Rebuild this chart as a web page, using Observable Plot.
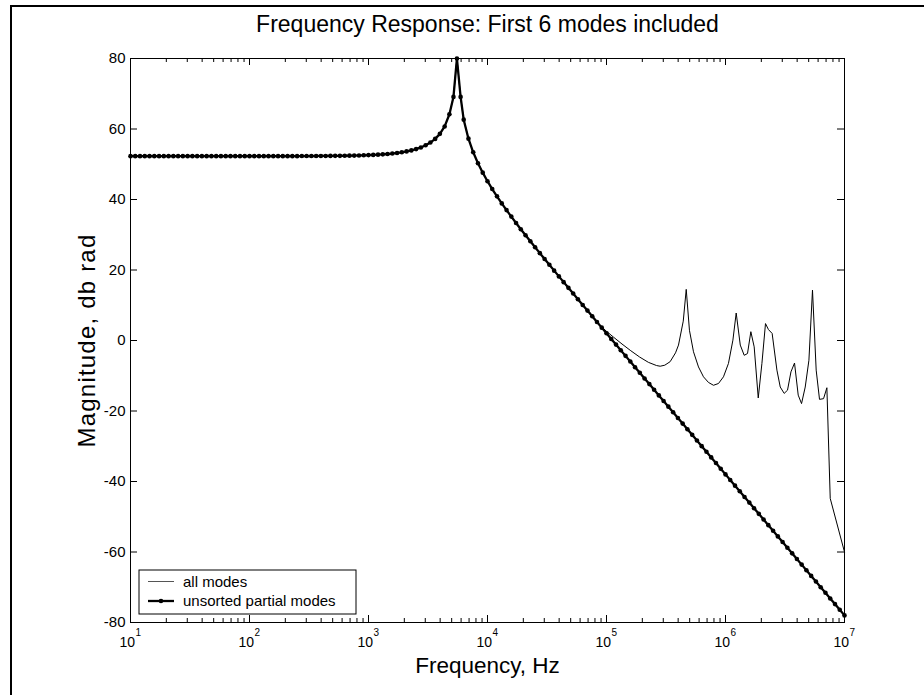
<!DOCTYPE html>
<html><head><meta charset="utf-8">
<script src="https://cdn.jsdelivr.net/npm/d3@7"></script>
<script src="https://cdn.jsdelivr.net/npm/@observablehq/plot@0.6"></script>
<style>
html,body{margin:0;padding:0;background:#fff;}
#wrap{position:relative;width:924px;height:695px;overflow:hidden;background:#fff;}
#chart{position:absolute;left:0;top:0;}
#outer{position:absolute;left:10px;top:5px;width:960px;height:740px;border-left:2px solid #000;border-top:2px solid #000;pointer-events:none;}
</style></head><body>
<div id="wrap"><div id="chart"></div><div id="outer"></div></div>
<script>
// ---- data ----
const titleText = "Frequency Response: First 6 modes included";
const xLabelText = "Frequency, Hz";
const yLabelText = "Magnitude, db rad";
const seriesNames = ["all modes", "unsorted partial modes"];

const xMajorTicks = [10, 100, 1000, 10000, 100000, 1000000, 10000000];
const xTickExponents = ["1", "2", "3", "4", "5", "6", "7"];
const xMinorMultipliers = [2, 3, 4, 5, 6, 7, 8, 9];
const yTicks = [-80, -60, -40, -20, 0, 20, 40, 60, 80];
const yTickLabels = ["-80", "-60", "-40", "-20", "0", "20", "40", "60", "80"];

// unsorted partial modes (thick line with markers)
const partialFreq = [
10, 10.96, 12.02, 13.18, 14.45, 15.85, 17.38, 19.05, 20.89, 22.91, 25.12, 27.54, 30.2, 33.11, 36.31, 39.81, 43.65, 47.86, 52.48, 57.54, 63.1, 69.18, 75.86, 83.18, 91.2,
100, 109.6, 120.2, 131.8, 144.5, 158.5, 173.8, 190.5, 208.9, 229.1, 251.2, 275.4, 302, 331.1, 363.1, 398.1, 436.5, 478.6, 524.8, 575.4, 631, 691.8, 758.6, 831.8, 912,
1000, 1096, 1202, 1318, 1445, 1585, 1738, 1905, 2089, 2291, 2512, 2754, 3020, 3311, 3631, 3981, 4365, 4786, 5176, 5534, 5943, 6310, 6918, 7586, 8318, 9120,
10000, 10960, 12020, 13180, 14450, 15850, 17380, 19050, 20890, 22910, 25120, 27540, 30200, 33110, 36310, 39810, 43650, 47860, 52480, 57540, 63100, 69180, 75860, 83180, 91200,
100000, 109600, 120200, 131800, 144500, 158500, 173800, 190500, 208900, 229100, 251200, 275400, 302000, 331100, 363100, 398100, 436500, 478600, 524800, 575400, 631000, 691800, 758600, 831800, 912000,
1000000, 1096000, 1202000, 1318000, 1445000, 1585000, 1738000, 1905000, 2089000, 2291000, 2512000, 2754000, 3020000, 3311000, 3631000, 3981000, 4365000, 4786000, 5248000, 5754000, 6310000, 6918000, 7586000, 8318000, 9120000, 10000000
];
const partialDb = [
52.3, 52.3, 52.3, 52.3, 52.3, 52.3, 52.3, 52.3, 52.3, 52.3, 52.3, 52.3, 52.3, 52.3, 52.3, 52.3, 52.3, 52.3, 52.3, 52.3, 52.3, 52.3, 52.3, 52.3, 52.3,
52.3, 52.3, 52.3, 52.3, 52.3, 52.3, 52.3, 52.3, 52.3, 52.3, 52.3, 52.32, 52.33, 52.33, 52.34, 52.35, 52.35, 52.37, 52.38, 52.39, 52.41, 52.44, 52.46, 52.5, 52.54,
52.59, 52.65, 52.72, 52.81, 52.91, 53.04, 53.2, 53.4, 53.64, 53.93, 54.3, 54.77, 55.37, 56.15, 57.19, 58.62, 60.73, 64.19, 69.1, 80.0, 69.1, 62.65, 57.26, 53.4, 50.3, 47.61,
45.19, 42.97, 40.89, 38.9, 37.0, 35.15, 33.35, 31.58, 29.85, 28.14, 26.45, 24.78, 23.12, 21.47, 19.82, 18.19, 16.56, 14.94, 13.32, 11.7, 10.09, 8.48, 6.87, 5.26, 3.65,
2.05, 0.44, -1.16, -2.76, -4.36, -5.97, -7.57, -9.17, -10.77, -12.37, -13.97, -15.57, -17.17, -18.77, -20.37, -21.97, -23.57, -25.17, -26.77, -28.37, -29.97, -31.57, -33.17, -34.77, -36.37,
-37.98, -39.58, -41.18, -42.78, -44.38, -45.98, -47.58, -49.18, -50.78, -52.38, -53.98, -55.58, -57.18, -58.78, -60.38, -61.98, -63.58, -65.18, -66.78, -68.38, -69.98, -71.58, -73.18, -74.78, -76.38, -77.98
];

// all modes: identical to the partial curve below ~8e4 Hz, then these points
const allModesHighFreq = [
83180, 91200, 100000, 115000, 135000, 160000, 190000, 225000, 263000, 282500, 309000, 342800, 380200, 402700, 441600, 467700, 497700, 538300, 592900, 653100,
719400, 792500, 873000, 961600, 1059000, 1154000, 1230000, 1331000, 1436000, 1531000, 1633000, 1742000, 1884000, 2023000, 2168000, 2296000, 2466000, 2704000,
2884000, 3112000, 3319000, 3548000, 3802000, 4083000, 4355000, 4677000, 5023000, 5383000, 5781000, 6166000, 6668000, 7112000, 7586000, 10000000
];
const allModesHighDb = [
5.3, 3.8, 2.6, 0.9, -1.0, -2.9, -4.7, -6.2, -7.1, -7.3, -7.0, -6.0, -3.5, -1.3, 5.5, 14.5, 2.9, -3.2, -7.5, -10.3,
-11.9, -12.7, -12.2, -10.3, -6.5, 0.1, 7.8, -1.3, -4.2, -3.7, 2.5, -1.8, -16.3, -6.5, 4.8, 3.1, 2.0, -8.4,
-13.2, -15.0, -14.1, -8.9, -6.4, -15.5, -17.9, -13.2, -5.6, 14.3, -8.4, -16.7, -16.5, -13.4, -44.8, -60.0
];

// ---- build ----
const W = 924, H = 695, mL = 130, mR = 80, mT = 58, mB = 73;
const innerW = W - mL - mR, innerH = H - mT - mB;
const FONT = "'Liberation Sans', Arial, Helvetica, sans-serif";

const partial = partialFreq.map((f, i) => ({f, db: partialDb[i]}));
const allModes = partial.filter(d => d.f < allModesHighFreq[0])
  .concat(allModesHighFreq.map((f, i) => ({f, db: allModesHighDb[i]})));
const xMinorTicks = xMajorTicks.slice(0, -1).flatMap(d => xMinorMultipliers.map(m => m * d));

const plot = Plot.plot({
  width: W, height: H,
  marginLeft: mL, marginRight: mR, marginTop: mT, marginBottom: mB,
  x: {type: "log", domain: [10, 1e7], axis: null},
  y: {domain: [-80, 80], axis: null},
  style: {fontFamily: FONT, background: "transparent", color: "#000", overflow: "visible"},
  marks: [
    Plot.tickX(xMajorTicks, {x: d => d, insetTop: innerH - 7, stroke: "#000"}),
    Plot.tickX(xMajorTicks, {x: d => d, insetBottom: innerH - 7, stroke: "#000"}),
    Plot.tickX(xMinorTicks, {x: d => d, insetTop: innerH - 4, stroke: "#000"}),
    Plot.tickX(xMinorTicks, {x: d => d, insetBottom: innerH - 4, stroke: "#000"}),
    Plot.tickY(yTicks, {y: d => d, insetRight: innerW - 7, stroke: "#000"}),
    Plot.tickY(yTicks, {y: d => d, insetLeft: innerW - 7, stroke: "#000"}),
    Plot.line(allModes, {x: "f", y: "db", stroke: "#000", strokeWidth: 1}),
    Plot.line(partial, {x: "f", y: "db", stroke: "#000", strokeWidth: 2.3}),
    Plot.dot(partial, {x: "f", y: "db", r: 2.3, fill: "#000", stroke: null}),
    Plot.frame({stroke: "#000", strokeWidth: 1}),
    Plot.text(yTicks, {y: d => d, text: (d, i) => yTickLabels[i], frameAnchor: "left", textAnchor: "end", dx: -5, fontSize: 15}),
    Plot.text(xMajorTicks, {x: d => d, text: () => "10", frameAnchor: "bottom", lineAnchor: "bottom", textAnchor: "end", dx: 4.5, dy: 24, fontSize: 14}),
    Plot.text(xMajorTicks, {x: d => d, text: (d, i) => xTickExponents[i], frameAnchor: "bottom", lineAnchor: "bottom", textAnchor: "start", dx: 5, dy: 13.5, fontSize: 10}),
    Plot.text([xLabelText], {text: d => d, frameAnchor: "bottom", textAnchor: "middle", lineAnchor: "bottom", dy: 50, fontSize: 22.5}),
    Plot.text([yLabelText], {text: d => d, frameAnchor: "left", textAnchor: "middle", rotate: -90, dx: -43, fontSize: 24}),
    Plot.text([titleText], {text: d => d, frameAnchor: "top", textAnchor: "middle", lineAnchor: "bottom", dy: -26.5, fontSize: 23})
  ]
});

d3.select(plot).selectAll("text").filter(function() { return this.textContent === yLabelText; })
  .style("letter-spacing", "1.2px");

// legend (inside lower-left of axes)
const svg = d3.select(plot);
const lx = mL + 9, ly = H - mB - 52, lw = 217, lh = 44;
const lg = svg.append("g").attr("font-family", FONT).attr("font-size", 15).attr("text-anchor", "start");
lg.append("rect").attr("x", lx).attr("y", ly).attr("width", lw).attr("height", lh)
  .attr("fill", "#fff").attr("stroke", "#000").attr("stroke-width", 1);
const rows = [ly + 11.5, ly + 31];
lg.append("line").attr("x1", lx + 9).attr("x2", lx + 35).attr("y1", rows[0]).attr("y2", rows[0])
  .attr("stroke", "#555").attr("stroke-width", 1);
lg.append("line").attr("x1", lx + 9).attr("x2", lx + 35).attr("y1", rows[1]).attr("y2", rows[1])
  .attr("stroke", "#000").attr("stroke-width", 2.3);
lg.append("circle").attr("cx", lx + 22).attr("cy", rows[1]).attr("r", 2.3).attr("fill", "#000");
seriesNames.forEach((name, i) => {
  lg.append("text").attr("x", lx + 44).attr("y", rows[i] + 5).attr("fill", "#000")
    .attr("text-anchor", "start").text(name);
});

document.getElementById("chart").appendChild(plot);
</script>
</body></html>
